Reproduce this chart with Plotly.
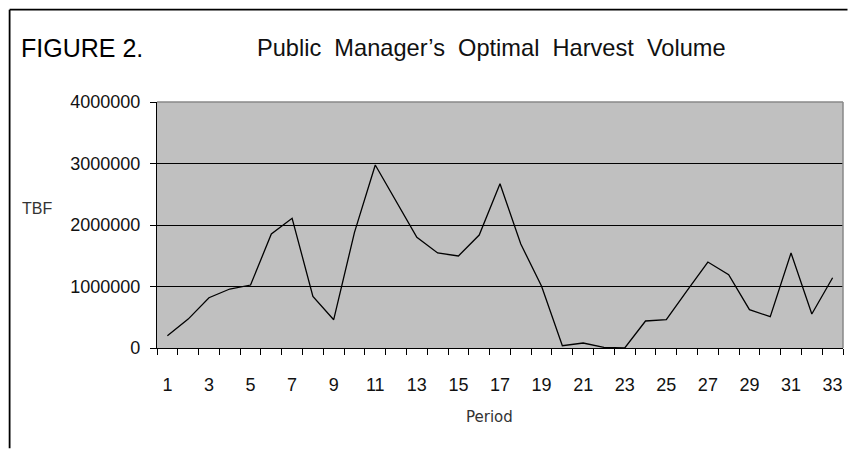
import plotly.graph_objects as go

periods = list(range(1, 34))
harvest = [200000, 470000, 818000, 959000, 1024000, 1854000, 2109000, 840000, 460000,
           1881000, 2976000, 2379000, 1800000, 1545000, 1496000, 1837000, 2672000,
           1691000, 1003000, 37000, 81000, 10000, 0, 439000, 460000, 932000, 1398000,
           1192000, 623000, 509000, 1545000, 553000, 1143000]
y_ticks = [0, 1000000, 2000000, 3000000, 4000000]
y_tick_labels = ["0", "1000000", "2000000", "3000000", "4000000"]
x_tick_labels = [str(p) for p in periods if p % 2 == 1]

W, H = 848, 449
L, R, T, B = 157, 843.5, 102, 348.5

def px(x):
    return (x - L) / (R - L)

def py(y):
    return (B - y) / (B - T)

fig = go.Figure()
fig.add_trace(go.Scatter(x=periods, y=harvest, mode="lines",
                         line=dict(color="black", width=1.3), showlegend=False))

font = "Liberation Sans, Arial, sans-serif"
fig.update_layout(
    width=W, height=H,
    margin=dict(l=L, r=W - R, t=T, b=H - B, pad=0),
    paper_bgcolor="white", plot_bgcolor="#C0C0C0",
    font=dict(family=font, color="black", size=18),
    xaxis=dict(range=[0.5, 33.5], tickmode="array",
               tickvals=[int(t) for t in x_tick_labels], ticktext=x_tick_labels,
               ticks="", showgrid=False, zeroline=False,
               showline=True, linecolor="black", linewidth=1.2,
               ticklabelstandoff=20,
               tickfont=dict(size=18, family=font, color="#111"),
               minor=dict(tickmode="array",
                          tickvals=[p - 0.5 for p in periods] + [33.5],
                          ticks="outside", ticklen=6, tickcolor="black",
                          tickwidth=1, showgrid=False)),
    yaxis=dict(range=[0, 4000000], tickmode="array", tickvals=y_ticks,
               ticktext=y_tick_labels, ticks="outside", ticklen=6,
               tickcolor="black", tickwidth=1,
               showgrid=True, gridcolor="black", gridwidth=1,
               zeroline=False, showline=True, linecolor="black", linewidth=1.2,
               ticklabelstandoff=6,
               tickfont=dict(size=18, family=font, color="#111")),
)

# plot border (top & right, gray)
fig.add_shape(type="line", xref="paper", yref="paper", x0=0, x1=1, y0=1, y1=1,
              line=dict(color="#888888", width=1.5), layer="above")
fig.add_shape(type="line", xref="paper", yref="paper", x0=1, x1=1, y0=0, y1=1,
              line=dict(color="#888888", width=1.5), layer="above")
# page frame
fig.add_shape(type="line", xref="paper", yref="paper", x0=px(9.5), x1=px(848),
              y0=py(9.5), y1=py(9.5), line=dict(color="black", width=1.8))
fig.add_shape(type="line", xref="paper", yref="paper", x0=px(9.5), x1=px(9.5),
              y0=py(9.5), y1=py(449), line=dict(color="black", width=1.8))

fig.add_annotation(text="FIGURE 2.", xref="paper", yref="paper", x=px(19), y=py(48),
                   xanchor="left", yanchor="middle", showarrow=False,
                   font=dict(size=25, family=font, color="black"))
fig.add_annotation(text="Public  Manager’s  Optimal  Harvest  Volume", xref="paper", yref="paper",
                   x=px(492), y=py(48), xanchor="center", yanchor="middle", showarrow=False,
                   font=dict(size=23.6, family=font, color="#111"))
fig.add_annotation(text="TBF", xref="paper", yref="paper", x=px(37), y=py(209),
                   xanchor="center", yanchor="middle", showarrow=False,
                   font=dict(size=16, family=font, color="#333"))
fig.add_annotation(text="Period", xref="paper", yref="paper", x=px(490), y=py(418),
                   xanchor="center", yanchor="middle", showarrow=False,
                   font=dict(size=15, family="DejaVu Sans, sans-serif", color="#333"))

fig.write_html("out.html", config={"displayModeBar": False},
               post_script="document.body.style.margin='0';document.body.style.overflow='hidden';")
